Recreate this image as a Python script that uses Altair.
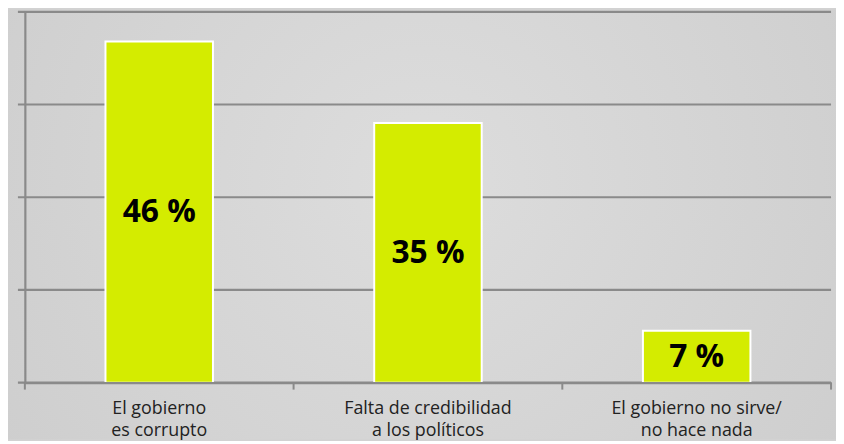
import altair as alt
import pandas as pd

categories = ["El gobierno\nes corrupto", "Falta de credibilidad\na los políticos", "El gobierno no sirve/\nno hace nada"]
values = [46, 35, 7]
labels = ["46 %", "35 %", "7 %"]
grid_values = [0, 12.5, 25, 37.5, 50]
tick_positions = [0, 1, 2, 3]

W, H = 813, 374
PAD = {"left": 17, "top": 2, "right": 5, "bottom": 57}
AX = "#8a8a8a"

df = pd.DataFrame({"cat": categories, "val": values, "lab": labels})
gdf = pd.DataFrame({"g": grid_values})
tdf = pd.DataFrame({"t": tick_positions})
bgdf = pd.DataFrame({"b": [0]})

yscale = alt.Scale(domain=[0, 50], nice=False)
xscale = alt.Scale(paddingInner=0.6, paddingOuter=0.3)

bg = alt.Chart(bgdf).mark_rect(
    color=alt.Gradient(
        gradient="radial",
        stops=[alt.GradientStop(color="#dddddd", offset=0),
               alt.GradientStop(color="#c9c9c9", offset=1)],
        x1=0.5, y1=0.45, r1=0, x2=0.5, y2=0.45, r2=0.8,
    )
).encode(
    x=alt.value(-PAD["left"]), x2=alt.value(W + PAD["right"]),
    y=alt.value(-PAD["top"]), y2=alt.value(H + PAD["bottom"]),
)

grid = alt.Chart(gdf).mark_rule(color=AX, strokeWidth=2.2).encode(
    y=alt.Y("g:Q", scale=yscale),
    x=alt.value(-7), x2=alt.value(W),
)

ticks = alt.Chart(tdf).mark_rule(color=AX, strokeWidth=2).encode(
    x=alt.X("t:Q", scale=alt.Scale(domain=[0, 3], nice=False, zero=False), axis=None),
    y=alt.value(H), y2=alt.value(H + 7),
)

bars = alt.Chart(df).mark_bar(color="#d4ec00", stroke="white", strokeWidth=2).encode(
    x=alt.X("cat:N", sort=None, scale=xscale, title=None,
            axis=alt.Axis(labelExpr="split(datum.label, '\\n')", labelAngle=0,
                          ticks=False, domainColor=AX, domainWidth=2.2,
                          labelFont="Open Sans", labelFontSize=18, labelColor="#222222",
                          labelLineHeight=22.5, labelPadding=17, labelBaseline="top",
                          grid=False, zindex=1)),
    y=alt.Y("val:Q", scale=yscale, title=None,
            axis=alt.Axis(labels=False, ticks=False, grid=False, domainColor=AX,
                          domainWidth=2.2, zindex=1)),
)

text = alt.Chart(df).transform_calculate(half="datum.val / 2").mark_text(
    font="Open Sans", fontWeight="bold", fontSize=32, color="black", baseline="middle"
).encode(
    x=alt.X("cat:N", sort=None, scale=xscale, axis=None),
    y=alt.Y("half:Q", scale=yscale),
    text="lab:N",
)

chart = alt.layer(bg, grid, bars, text, ticks).resolve_scale(x="independent").properties(
    width=W, height=H,
    autosize=alt.AutoSizeParams(type="none"),
    padding=PAD,
    background="#d2d2d2",
).configure_view(stroke=None)

chart.save("out.html", embed_options={"renderer": "svg", "actions": False})
